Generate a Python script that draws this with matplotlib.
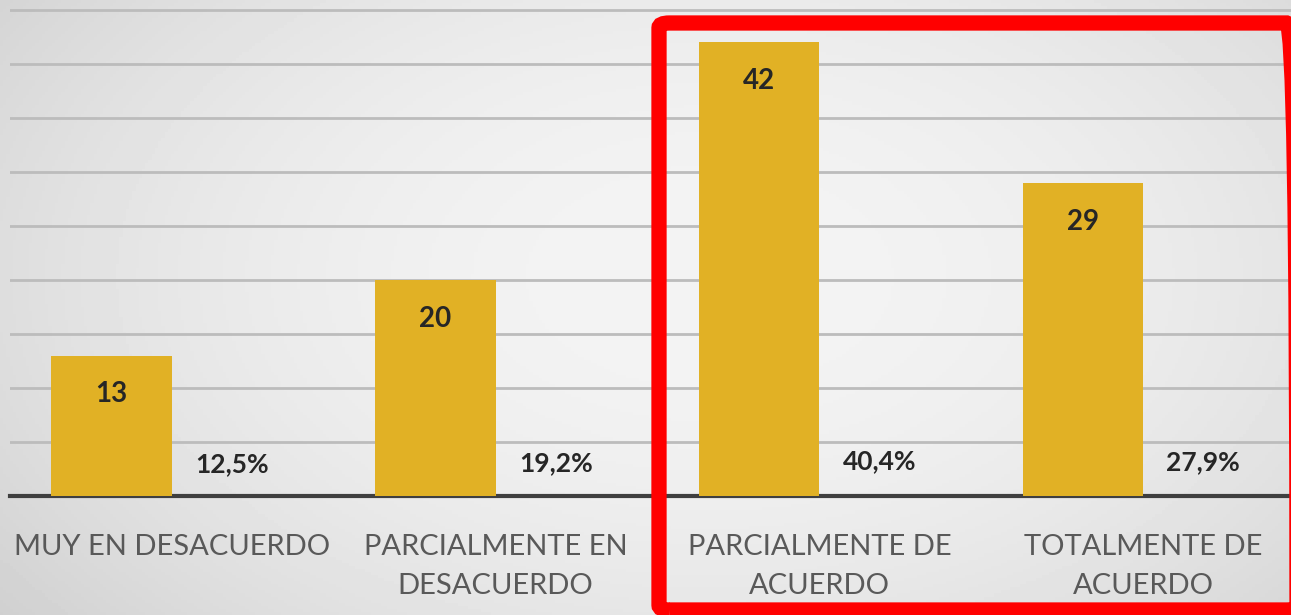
import numpy as np
import matplotlib.pyplot as plt
from matplotlib.patches import FancyBboxPatch

categorias = ["MUY EN DESACUERDO", "PARCIALMENTE EN\nDESACUERDO",
              "PARCIALMENTE DE\nACUERDO", "TOTALMENTE DE\nACUERDO"]
frecuencia = [13, 20, 42, 29]
porcentaje = [12.5, 19.2, 40.4, 27.9]
etiquetas_pct = ["12,5%", "19,2%", "40,4%", "27,9%"]

plt.rcParams['font.family'] = ['Lato', 'DejaVu Sans']

W, H = 1291, 615
fig = plt.figure(figsize=(W / 100, H / 100), dpi=100)

# background gradient (lighter centre, grey edges)
bg = fig.add_axes([0, 0, 1, 1], zorder=-5)
yy, xx = np.mgrid[0:1:200j, 0:1:400j]
r = np.sqrt(((xx - 0.55) / 0.7) ** 2 + ((yy - 0.45) / 0.9) ** 2)
grad = 0.955 - 0.14 * np.clip(r, 0, 1.2) ** 2
bg.imshow(grad, cmap='gray', vmin=0, vmax=1, aspect='auto', extent=[0, 1, 0, 1])
bg.axis('off')

ax = fig.add_axes([10 / W, (H - 496) / H, (W - 10) / W, 496 / H])
ax.patch.set_alpha(0)

x = np.arange(len(categorias))
w = 0.372
b1 = ax.bar(x - w / 2, frecuencia, w, color='#E1B125', zorder=3)
b2 = ax.bar(x + w / 2, [p / 100 for p in porcentaje], w, color='none', zorder=3)

for rect, v in zip(b1, frecuencia):
    ax.annotate(str(v), (rect.get_x() + rect.get_width() / 2, rect.get_height()),
                xytext=(0, -28), textcoords='offset points', ha='center', va='center',
                fontsize=20, fontweight='bold', color='#262626')
for rect, t in zip(b2, etiquetas_pct):
    ax.annotate(t, (rect.get_x() + rect.get_width() / 2, rect.get_height()),
                xytext=(0, 22), textcoords='offset points', ha='center', va='center',
                fontsize=19, fontweight='bold', color='#262626')

ax.set_xlim(-0.5, (W - 172) / 323.7)
ax.set_ylim(0, 496 / 10.8)
ax.set_yticks(np.arange(5, 50, 5))
ax.yaxis.grid(True, color='#bcbcbc', linewidth=2)
ax.set_axisbelow(True)
ax.tick_params(axis='y', left=False, labelleft=False)
ax.tick_params(axis='x', bottom=False, pad=24)
ax.set_xticks(x)
ax.set_xticklabels(categorias, fontsize=21, color='#595959', linespacing=1.6, va='top')
for s in ['top', 'right', 'left']:
    ax.spines[s].set_visible(False)
ax.spines['bottom'].set_color('#3f3f3f')
ax.spines['bottom'].set_linewidth(3)

# red highlight box
box = FancyBboxPatch((659 / W, (H - 610) / H), (1297 - 659) / W, (610 - 23) / H,
                     boxstyle='round,pad=0,rounding_size=0.008',
                     transform=fig.transFigure, fill=False,
                     edgecolor='#FF0000', linewidth=11, zorder=10)
box.set_figure(fig)
fig.patches.append(box)

fig.savefig('out.png', dpi=100)
